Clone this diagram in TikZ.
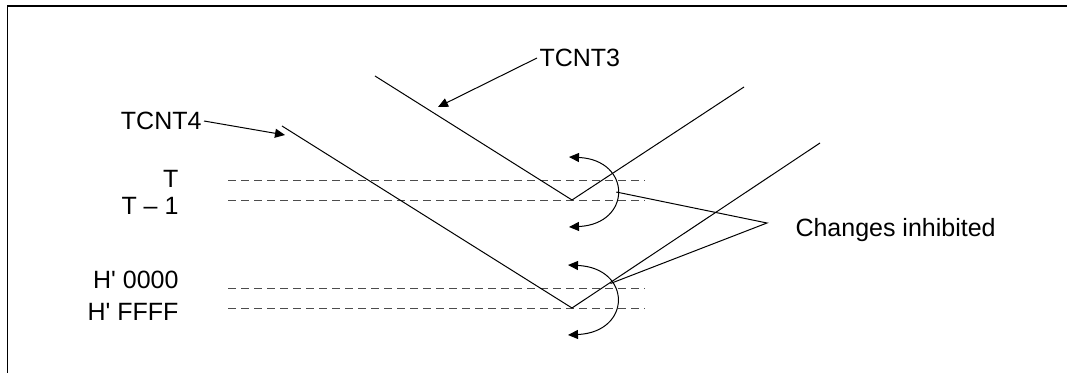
\documentclass[tikz,border=0pt]{standalone}
\usepackage{fontspec}
\setmainfont{Liberation Sans}
\usetikzlibrary{arrows.meta}

\begin{document}
\begin{tikzpicture}[x=0.5pt, y=-0.5pt, line width=0.5pt,
    every node/.style={font=\fontsize{12.5}{14}\selectfont, inner sep=1pt},
    level/.style={dash pattern=on 4pt off 2.5pt, black!70},
    tip/.style={-{Triangle[length=5pt,width=4.5pt]}},
    swing/.style={{Triangle[length=5pt,width=4.5pt]}-{Triangle[length=5pt,width=4.5pt]}}]
    \useasboundingbox (0,0) rectangle (1067,373);
    % Frame
    \draw[line width=0.8pt] (7.5,373) -- (7.5,6) -- (1067,6);

    % Levels
    \foreach \y/\ty/\txt/\nm in {181/179/T/lvT, 201/206/{T -- 1}/lvTm,
                                 289/280/{H\textquotesingle{} 0000}/lvZ, 309/312/{H\textquotesingle{} FFFF}/lvF} {
      \node[anchor=east, inner sep=0pt] (\nm) at (179,\ty) {\txt};
      \draw[level] (228,\y) -- (645,\y);
    }

    % Counters
    \coordinate (c3a) at (375,76);
    \coordinate (c3v) at (572,200);
    \coordinate (c3b) at (744,87);
    \coordinate (c4a) at (282,126);
    \coordinate (c4v) at (572,308);
    \coordinate (c4b) at (820,143);
    \draw (c3a) -- (c3v) -- (c3b);
    \draw (c4a) -- (c4v) -- (c4b);

    % Counter labels
    \node[anchor=west] (tc3) at (537,58) {TCNT3};
    \node[anchor=east] (tc4) at (204,121) {TCNT4};
    \coordinate (p3) at (438,107);
    \coordinate (p4) at (285,135);
    \draw[tip] (tc3.west) -- (p3);
    \draw[tip] (tc4.east) -- (p4);

    % Inhibit arcs
    \draw[swing] (569,157) .. controls (632,160) and (632,224) .. (569,227)
      coordinate[pos=0.5] (bendT);
    \draw[swing] (568,265) .. controls (632,268) and (632,332) .. (568,335)
      coordinate[pos=0.33] (bendB);

    % Note
    \coordinate (apex) at (767,223);
    \node[anchor=west] (chg) at (793,230) {Changes inhibited};
    \draw (bendT) -- (apex) -- (bendB);
  \end{tikzpicture}
\end{document}
